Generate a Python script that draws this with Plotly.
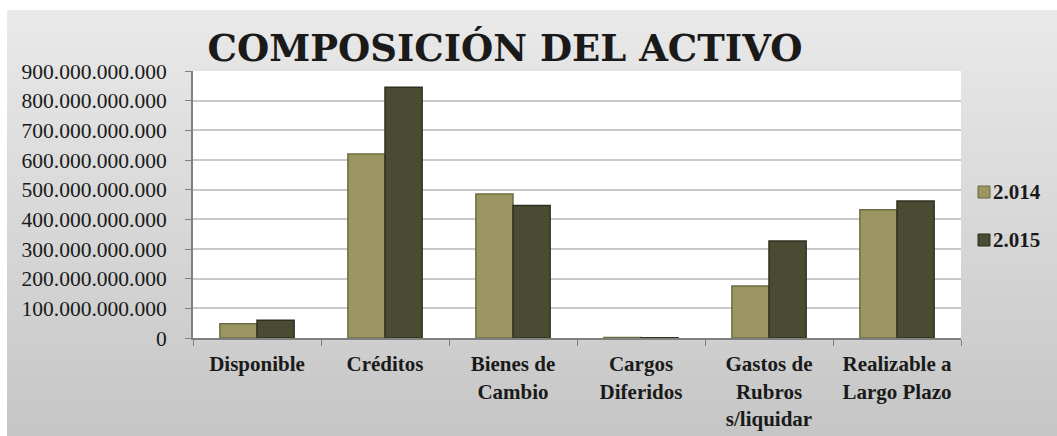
import plotly.graph_objects as go

# datos
categorias = [
    "Disponible",
    "Créditos",
    "Bienes de<br>Cambio",
    "Cargos<br>Diferidos",
    "Gastos de<br>Rubros<br>s/liquidar",
    "Realizable a<br>Largo Plazo",
]
valores_2014 = [48e9, 620e9, 485e9, 2e9, 175e9, 432e9]
valores_2015 = [60e9, 845e9, 447e9, 1e9, 327e9, 462e9]
series = ["2.014", "2.015"]

colores = ["#9a9561", "#4a4b33"]
bordes = ["#6e6b42", "#2f301f"]

fig = go.Figure()

for nombre, valores, color, borde in zip(series, [valores_2014, valores_2015], colores, bordes):
    fig.add_trace(
        go.Bar(
            x=categorias,
            y=valores,
            name=nombre,
            marker=dict(color=color, line=dict(color=borde, width=1.5)),
            showlegend=False,
        )
    )

# medidas del area del grafico en pixeles
L, R, T, B = 193, 961, 71, 338
W, H = 1057, 436
ancho, alto = R - L, B - T

# fondo degradado (gris claro arriba, mas oscuro abajo)
pasos = 80
formas = []
for i in range(pasos):
    t = i / (pasos - 1)
    c = int(round(232 - t * (232 - 197)))
    ya = 10 + i * (H - 10) / pasos
    yb = 10 + (i + 1) * (H - 10) / pasos + 0.5
    formas.append(
        dict(
            type="rect", xref="paper", yref="paper", layer="below",
            x0=(7 - L) / ancho, x1=(W - L) / ancho,
            y0=(B - yb) / alto, y1=(B - ya) / alto,
            fillcolor=f"rgb({c},{c + 1},{c})", line=dict(width=0),
        )
    )
# area del grafico en blanco
formas.append(
    dict(type="rect", xref="paper", yref="paper", layer="below",
         x0=0, x1=1, y0=0, y1=1, fillcolor="white", line=dict(width=0))
)

# leyenda dibujada como anotaciones
anotaciones = []
for k, (nombre, color) in enumerate(zip(series, colores)):
    yc = 192 + k * 48
    formas.append(
        dict(type="rect", xref="paper", yref="paper",
             x0=(978 - L) / ancho, x1=(990 - L) / ancho,
             y0=(B - yc - 6) / alto, y1=(B - yc + 6) / alto,
             fillcolor=color, line=dict(color=bordes[k], width=1))
    )
    anotaciones.append(
        dict(text=f"<b>{nombre}</b>", xref="paper", yref="paper",
             x=(991 - L) / ancho, y=(B - yc) / alto,
             xanchor="left", yanchor="middle", showarrow=False,
             font=dict(family="Liberation Serif", size=21, color="#1a1a1a"))
    )

fig.update_layout(
    width=W,
    height=H,
    template="none",
    margin=dict(l=L, r=W - R, t=T, b=H - B, autoexpand=False),
    paper_bgcolor="white",
    plot_bgcolor="rgba(0,0,0,0)",
    separators=",.",
    bargap=0.42,
    bargroupgap=0,
    barmode="group",
    showlegend=False,
    shapes=formas,
    annotations=anotaciones,
    title=dict(
        text="<b>COMPOSICIÓN DEL ACTIVO</b>",
        font=dict(family="DejaVu Serif", size=37, color="#1a1a1a"),
        x=505 / W, xanchor="center",
        y=1 - 48 / H, yanchor="middle",
    ),
    font=dict(family="Liberation Serif", color="#1a1a1a"),
)

fig.update_yaxes(
    range=[0, 900e9],
    dtick=100e9,
    tickformat=",",
    tickfont=dict(family="Liberation Serif", size=21.5, color="#1a1a1a"),
    ticklabelstandoff=14,
    showgrid=True,
    gridcolor="#c9c9c9",
    gridwidth=1.5,
    showline=True,
    linecolor="#808080",
    linewidth=2,
    ticks="outside",
    ticklen=6,
    tickcolor="#808080",
    zeroline=False,
    automargin=False,
)
fig.update_xaxes(
    tickfont=dict(family="Liberation Serif", size=21, color="#1a1a1a"),
    ticklabelstandoff=6,
    showgrid=False,
    showline=True,
    linecolor="#808080",
    linewidth=2,
    ticks="outside",
    tickson="boundaries",
    ticklen=6,
    tickcolor="#808080",
    tickprefix="<b>",
    ticksuffix="</b>",
    automargin=False,
)

# quitar el margen del body para que la figura quede en (0, 0)
fig.write_html(
    "out.html",
    config={"displayModeBar": False},
    post_script="document.body.style.margin='0';",
)
